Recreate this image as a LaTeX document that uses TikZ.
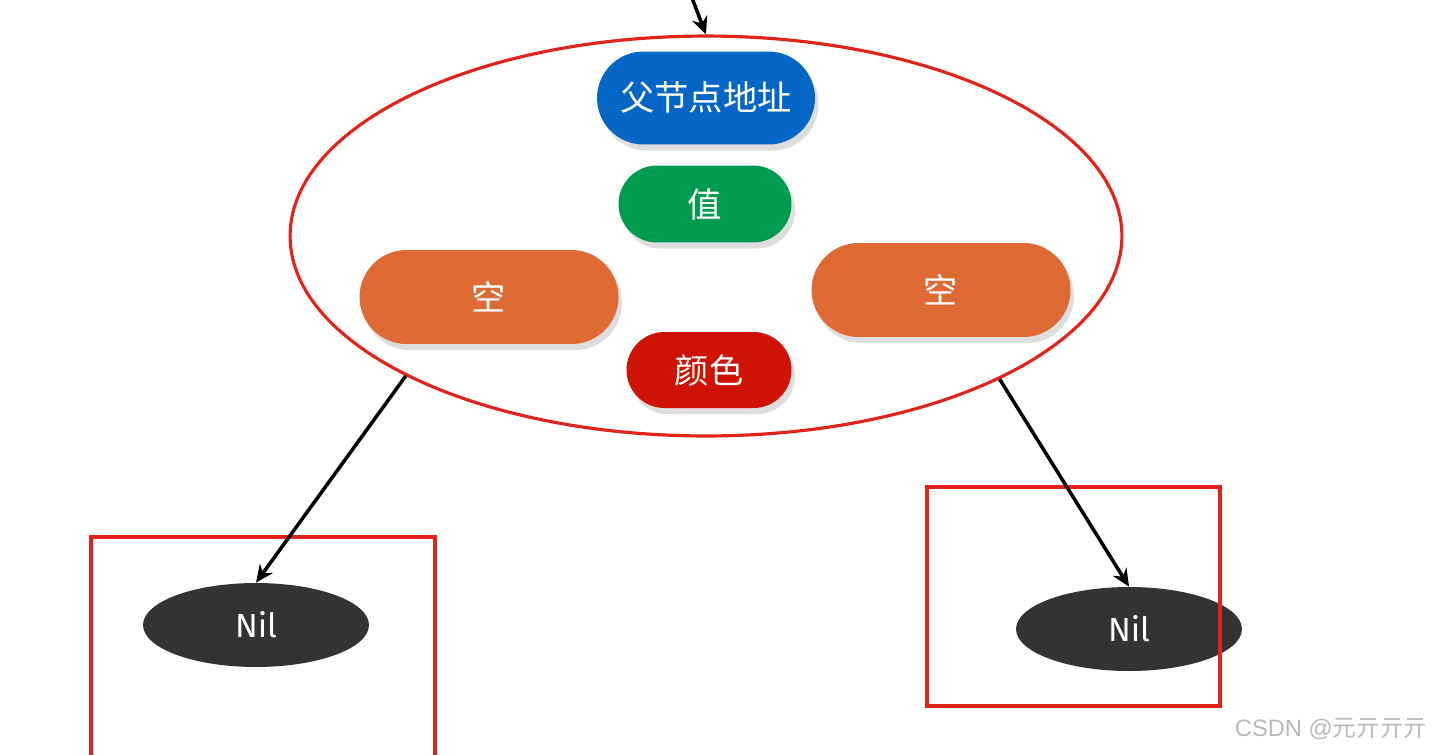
\documentclass[tikz,border=0pt]{standalone}
\usepackage{fontspec}
\setmainfont{Fira Sans}
\newfontfamily\cjk{Noto Sans CJK SC}
\newfontfamily\wmfont{Liberation Sans}
\usepackage{tikz}
\usetikzlibrary{shapes.geometric, shapes.misc, arrows.meta, shadows}

\definecolor{addrblue}{HTML}{0566C6}
\definecolor{valgreen}{HTML}{009B4E}
\definecolor{nulorange}{HTML}{DE6A34}
\definecolor{colred}{HTML}{CE1203}
\definecolor{ringred}{HTML}{E0231B}
\definecolor{nildark}{HTML}{333333}

\begin{document}
\begin{tikzpicture}[
    x=0.02cm, y=-0.02cm,
    ->, >={Stealth[length=10pt, width=9pt]},
    pill/.style={rounded rectangle, inner sep=0pt, text=white,
        font=\cjk\fontsize{19.5}{22}\selectfont,
        drop shadow={shadow xshift=2pt, shadow yshift=-3.5pt, fill=black!13, opacity=1}},
    nilnode/.style={ellipse, fill=nildark, text=white, inner sep=0pt,
        minimum width=4.52cm, minimum height=1.68cm, font=\fontsize{19}{22}\selectfont},
    link/.style={line width=2pt, black},
    redbox/.style={-, draw=ringred, line width=2.4pt}
]
\useasboundingbox (0,0) rectangle (1432,754);

% the node record
\node[ellipse, draw=ringred, line width=1.8pt, inner sep=0pt,
      minimum width=16.64cm, minimum height=8cm] (Record) at (706,236) {};
\node[pill, fill=addrblue, minimum width=4.36cm, minimum height=1.86cm] (Parent) at (706,98) {父节点地址};
\node[pill, fill=valgreen, minimum width=3.46cm, minimum height=1.54cm] (Value) at (705,204) {值};
\node[pill, fill=nulorange, minimum width=5.18cm, minimum height=1.88cm] (LeftNull) at (489,297) {空};
\node[pill, fill=nulorange, minimum width=5.18cm, minimum height=1.88cm] (RightNull) at (941,290) {空};
\node[pill, fill=colred, minimum width=3.3cm, minimum height=1.52cm] (Color) at (709,370) {颜色};

% children
\draw[redbox] (91,760) -- (91,537) -- (435,537) -- (435,760);
\draw[redbox] (927,487) rectangle (1220,706);
\node[nilnode] (LeftNil) at (256,625) {Nil};
\node[nilnode] (RightNil) at (1129,629) {Nil};
\draw[redbox] (1220,600) -- (1220,706);

\coordinate (Above) at (692,-2);
\draw[link] (Above) -- (Record.north);
\draw[link] (Record.205) -- (LeftNil.north);
\draw[link] (Record.334.5) -- (RightNil.north);

\node[anchor=east, text=black!28, inner sep=0pt, font=\fontsize{13.5}{15}\selectfont]
    (Mark) at (1428,729) {\wmfont CSDN @\cjk 元亓亓亓};
\end{tikzpicture}
\end{document}
